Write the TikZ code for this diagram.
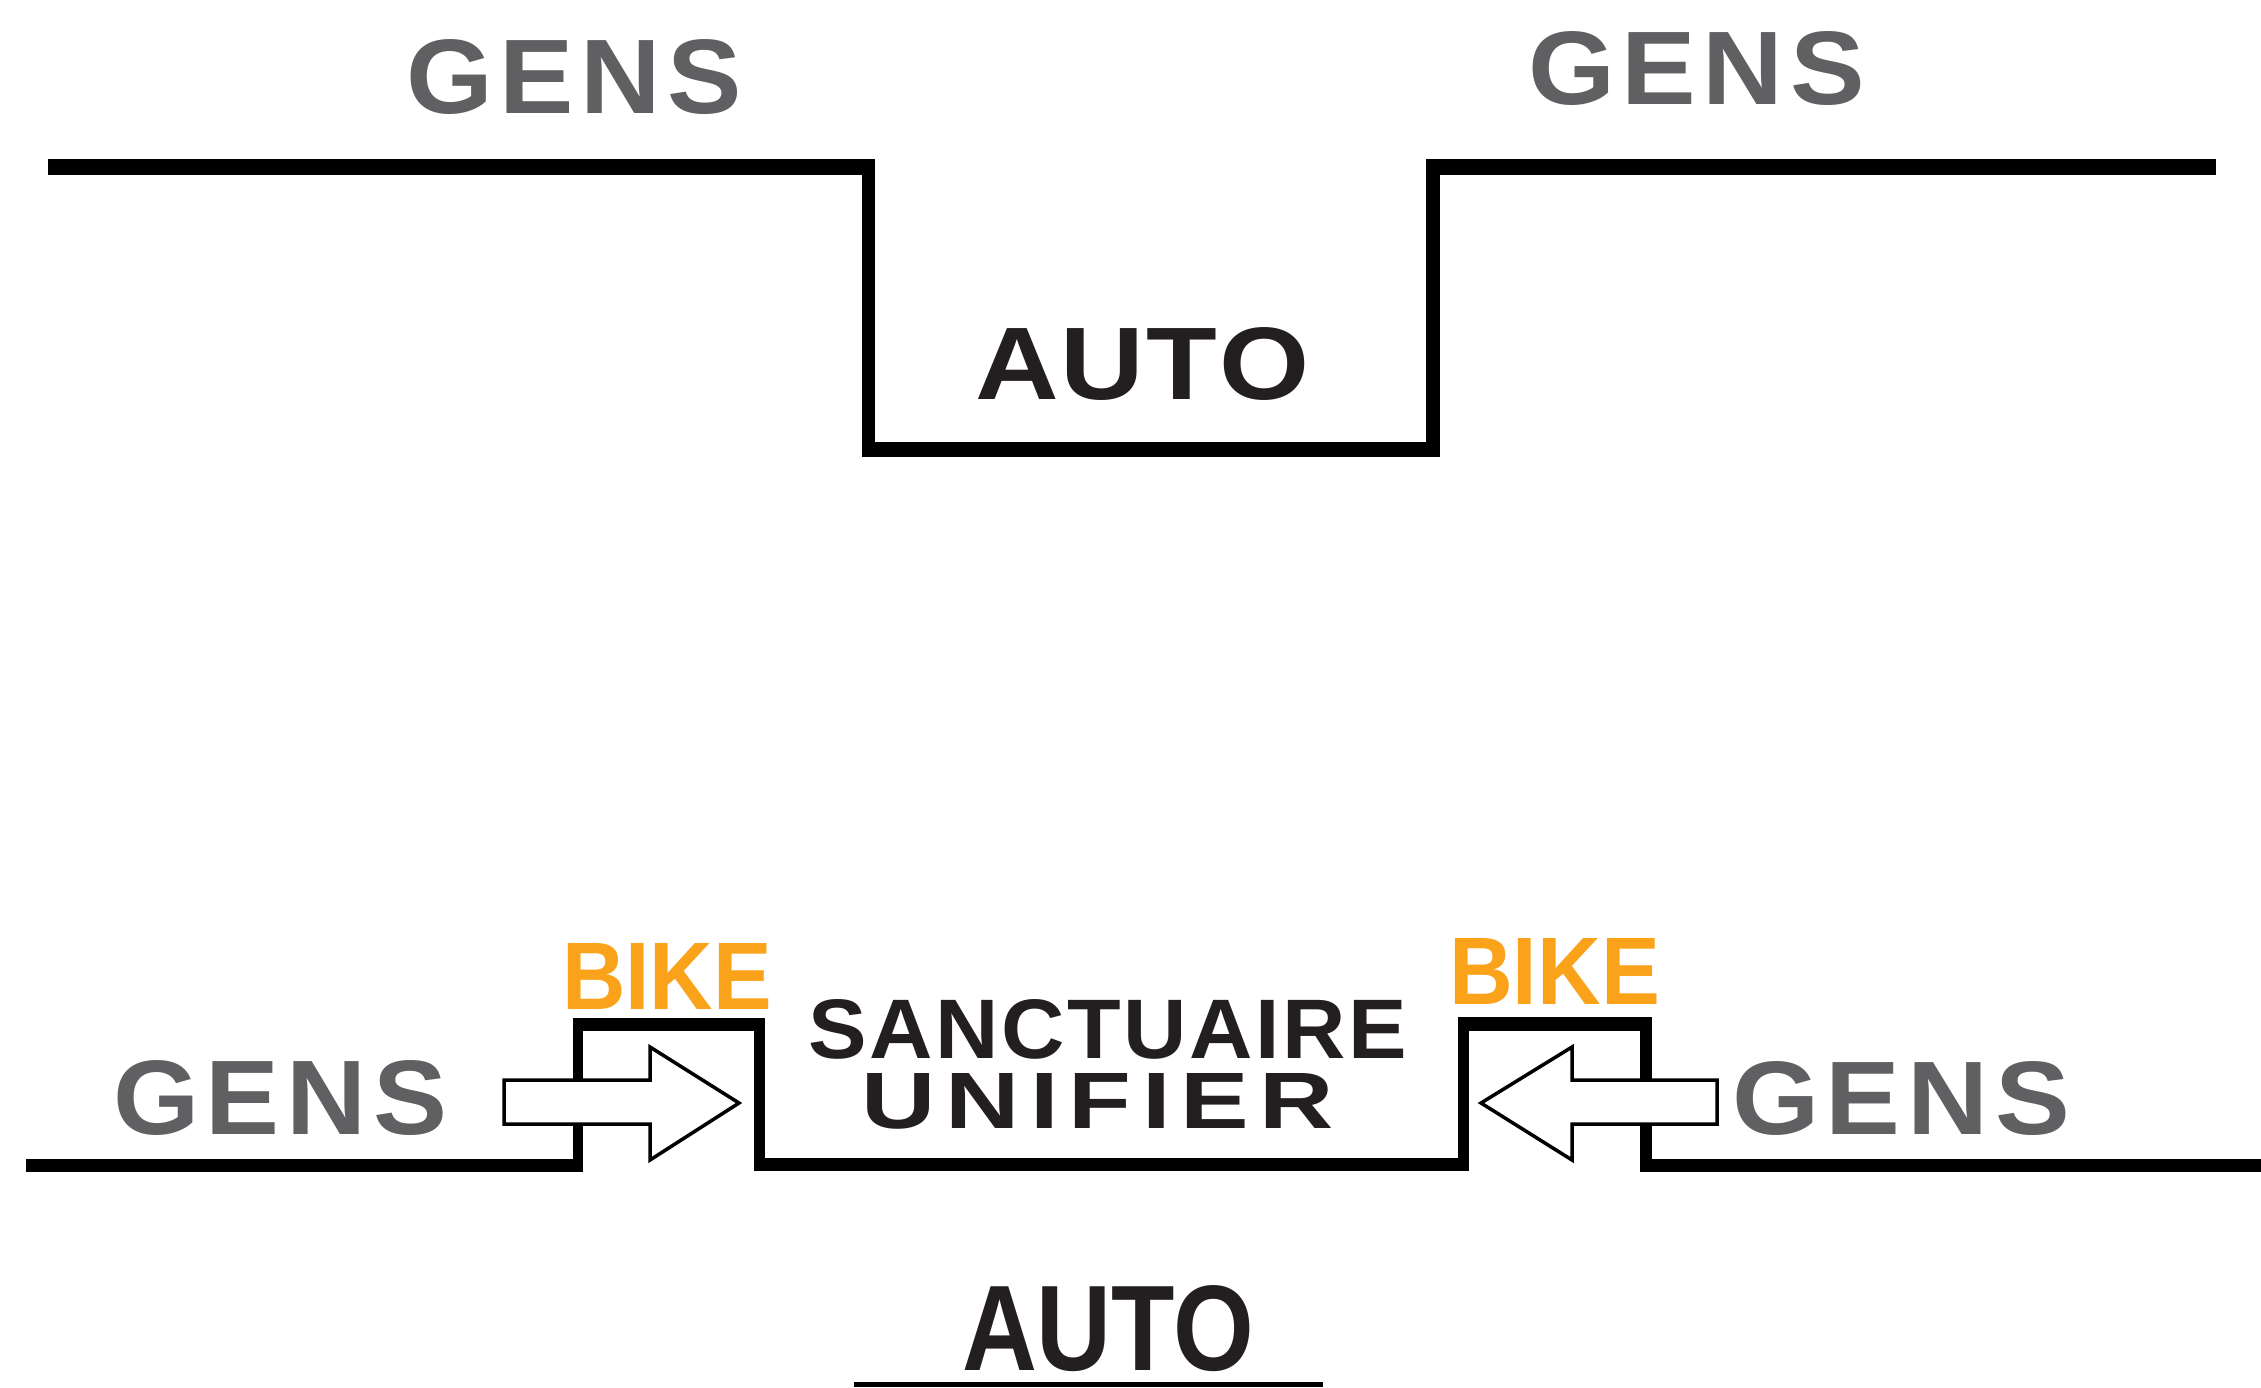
\documentclass[tikz,border=0pt]{standalone}
\usepackage{fontspec}
\usepackage{graphicx}
\setmainfont{Liberation Sans}
\definecolor{gensgray}{HTML}{606062}
\definecolor{bikeorange}{HTML}{FAA21A}
\definecolor{darktext}{HTML}{231F20}
\newcommand{\fitword}[3]{\resizebox{#1}{#2}{\bfseries #3}}
\tikzset{
  bar/.style={fill=black},
  word/.style={inner sep=0pt, outer sep=0pt, anchor=north west},
  gensword/.style={word, text=gensgray},
  bikeword/.style={word, text=bikeorange},
  darkword/.style={word, text=darktext},
  bigarrow/.style={draw=black, fill=white, line width=0.35mm, line join=miter}
}
\begin{document}
\begin{tikzpicture}[x=0.1mm, y=-0.1mm]
\useasboundingbox (0,0) rectangle (2261,1387);
% ---------------- top: street profile ----------------
\fill[bar] (48,159) rectangle (875,175);
\fill[bar] (862,159) rectangle (875,457);
\fill[bar] (862,442) rectangle (1440,457);
\fill[bar] (1426,159) rectangle (1440,457);
\fill[bar] (1426,159) rectangle (2216,175);
\node[gensword] (gensTL) at (406,40) {\fitword{33.6mm}{7.4mm}{G\kern.06em E\kern.06em N\kern.06em S}};
\node[gensword] (gensTR) at (1528,31) {\fitword{33.7mm}{7.3mm}{G\kern.06em E\kern.06em N\kern.06em S}};
\node[darkword] (autoT) at (975,327) {\fitword{33.5mm}{7.2mm}{A\kern.02em U\kern.02em T\kern.02em O}};
% ---------------- bottom: unified sanctuary ----------------
\fill[bar] (26,1159) rectangle (583,1172);
\fill[bar] (573,1018) rectangle (583,1172);
\fill[bar] (573,1018) rectangle (765,1031);
\fill[bar] (754,1018) rectangle (765,1171);
\fill[bar] (754,1158) rectangle (1469,1171);
\fill[bar] (1458,1017) rectangle (1469,1171);
\fill[bar] (1458,1017) rectangle (1652,1031);
\fill[bar] (1640,1017) rectangle (1652,1172);
\fill[bar] (1640,1159) rectangle (2261,1172);
\fill[bar] (854,1382) rectangle (1323,1387);
% arrows
\draw[bigarrow] (504,1080) -- (650,1080) -- (650,1047) -- (739,1103) -- (650,1160) -- (650,1124) -- (504,1124) -- cycle;
\draw[bigarrow] (1717,1080) -- (1572,1080) -- (1572,1047) -- (1481,1103) -- (1572,1160) -- (1572,1124) -- (1717,1124) -- cycle;
% labels
\node[gensword] (gensBL) at (113,1060) {\fitword{33.4mm}{7.4mm}{G\kern.06em E\kern.06em N\kern.06em S}};
\node[gensword] (gensBR) at (1732,1061) {\fitword{33.8mm}{7.3mm}{G\kern.06em E\kern.06em N\kern.06em S}};
\node[bikeword] (bikeL) at (562,943) {\fitword{21.0mm}{6.6mm}{BIKE}};
\node[bikeword] (bikeR) at (1449,938) {\fitword{21.1mm}{6.6mm}{BIKE}};
\node[darkword] (sanct) at (808,999) {\fitword{59.9mm}{5.9mm}{S\kern.03em A\kern.03em N\kern.03em C\kern.03em T\kern.03em U\kern.03em A\kern.03em I\kern.03em R\kern.03em E}};
\node[darkword] (unif) at (861,1073) {\fitword{47.3mm}{5.5mm}{U\kern.1em N\kern.1em I\kern.1em F\kern.1em I\kern.1em E\kern.1em R}};
\node[darkword] (autoB) at (962,1285) {\fitword{29.2mm}{8.5mm}{AUTO}};
\end{tikzpicture}
\end{document}
